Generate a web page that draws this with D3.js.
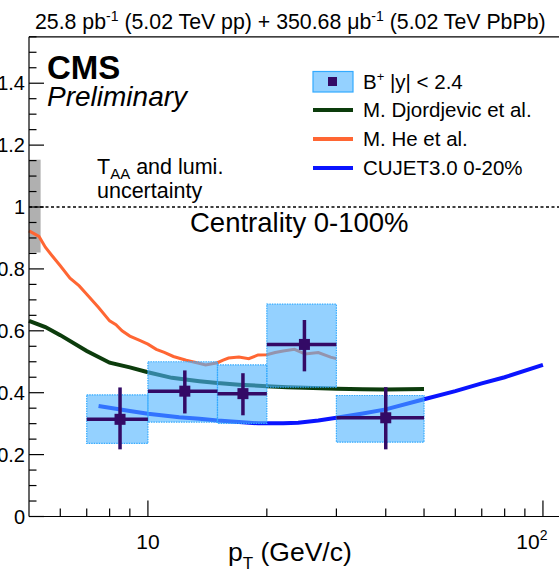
<!DOCTYPE html>
<html><head><meta charset="utf-8">
<script src="https://cdn.jsdelivr.net/npm/d3@7"></script>
<style>body{margin:0;background:#fff}svg{display:block;font-family:"Liberation Sans",Arial,sans-serif}</style>
</head><body><svg id="c" width="559" height="580"></svg>
<script>
// B+ RAA data
const binLo = [7, 10, 15, 20, 30];
const binHi = [10, 15, 20, 30, 50];
const bX = [8.5, 12.4, 17.4, 24.9, 40];
const bY = [0.314, 0.405, 0.397, 0.556, 0.319];
const statUp = [0.103, 0.067, 0.066, 0.079, 0.099];
const statDn = [0.097, 0.072, 0.070, 0.087, 0.102];
const systTop = [0.393, 0.500, 0.490, 0.686, 0.391];
const systBot = [0.236, 0.305, 0.301, 0.418, 0.240];
// Models
const djX = [5, 5.5, 6, 7, 8, 9, 10, 11.5, 13.5, 15, 17, 20, 22.5, 25, 30, 35, 40, 50];
const djY = [0.632, 0.612, 0.586, 0.535, 0.497, 0.482, 0.466, 0.448, 0.437, 0.431, 0.426, 0.421, 0.418, 0.416, 0.413, 0.411, 0.410, 0.412];
const heX = [5, 5.3, 5.5, 5.7, 6.0, 6.35, 6.7, 7.0, 7.5, 8.0, 8.3, 8.6, 9.0, 9.5, 10, 10.5, 11, 11.6, 12.5, 13.3, 14, 15, 15.5, 16, 17, 18, 19, 20, 21, 22, 23.5, 25, 27, 29, 30];
const heY = [0.923, 0.905, 0.87, 0.845, 0.81, 0.77, 0.745, 0.718, 0.675, 0.632, 0.62, 0.60, 0.583, 0.57, 0.557, 0.54, 0.53, 0.517, 0.505, 0.497, 0.49, 0.497, 0.505, 0.512, 0.515, 0.51, 0.522, 0.523, 0.53, 0.535, 0.54, 0.525, 0.53, 0.515, 0.51];
const cuX = [7.5, 9, 10, 12, 13.5, 15, 17, 19, 22, 24, 27, 30, 35, 40, 50, 60, 70, 80, 100];
const cuY = [0.357, 0.341, 0.332, 0.321, 0.316, 0.31, 0.305, 0.301, 0.301, 0.303, 0.31, 0.319, 0.333, 0.346, 0.379, 0.405, 0.43, 0.45, 0.49];
// Global uncertainty box
const taaLo = 0.853, taaHi = 1.153, taaX = [5, 5.35];
// Axis ticks
const yMajor = [0, 0.2, 0.4, 0.6, 0.8, 1, 1.2, 1.4];
const yLabels = ["0", "0.2", "0.4", "0.6", "0.8", "1", "1.2", "1.4"];
const xMajor = [10, 100];

const svg = d3.select("#c");
const x = d3.scaleLog().domain([5, 110]).range([29, 559.3]);
const y = d3.scaleLinear().domain([0, 1.55]).range([516.5, 36.8]);

// TAA box
svg.append("rect").attr("x", x(taaX[0])).attr("width", x(taaX[1]) - x(taaX[0]))
  .attr("y", y(taaHi)).attr("height", y(taaLo) - y(taaHi)).attr("fill", "#b0b0b0");
// dotted line at 1
svg.append("line").attr("x1", x(5)).attr("x2", 559).attr("y1", y(1)).attr("y2", y(1))
  .attr("stroke", "#000").attr("stroke-width", 1.5).attr("stroke-dasharray", "3,2.5");

const line = (xs, ys) => d3.line().x((d, i) => x(xs[i])).y((d, i) => y(ys[i]))(xs);
svg.append("path").attr("d", line(heX, heY)).attr("fill", "none").attr("stroke", "#ff6633").attr("stroke-width", 3);
svg.append("path").attr("d", line(djX, djY)).attr("fill", "none").attr("stroke", "#0c3c0c").attr("stroke-width", 4);
svg.append("path").attr("d", line(cuX, cuY)).attr("fill", "none").attr("stroke", "#0a14ff").attr("stroke-width", 4);

// syst boxes
const idx = d3.range(bX.length);
svg.selectAll(".sb").data(idx).join("rect")
  .attr("x", i => x(binLo[i])).attr("width", i => x(binHi[i]) - x(binLo[i]))
  .attr("y", i => y(systTop[i])).attr("height", i => y(systBot[i]) - y(systTop[i]))
  .attr("fill", "#4db3ff").attr("fill-opacity", 0.6)
  .attr("stroke", "#33aaff").attr("stroke-width", 1.2).attr("stroke-dasharray", "1.5,1");
const pc = "#330a66";
svg.selectAll(".xe").data(idx).join("line")
  .attr("x1", i => x(binLo[i])).attr("x2", i => x(binHi[i]))
  .attr("y1", i => y(bY[i])).attr("y2", i => y(bY[i])).attr("stroke", pc).attr("stroke-width", 3.5);
svg.selectAll(".ye").data(idx).join("line")
  .attr("x1", i => x(bX[i])).attr("x2", i => x(bX[i]))
  .attr("y1", i => y(bY[i] + statUp[i])).attr("y2", i => y(bY[i] - statDn[i])).attr("stroke", pc).attr("stroke-width", 3.5);
svg.selectAll(".mk").data(idx).join("rect")
  .attr("x", i => x(bX[i]) - 5.5).attr("y", i => y(bY[i]) - 5.5).attr("width", 11).attr("height", 11).attr("fill", pc);

// Axes frame
const ax = svg.append("g").attr("stroke", "#000").attr("stroke-width", 1.2);
ax.append("line").attr("x1", 29).attr("x2", 29).attr("y1", y(1.55)).attr("y2", y(0));
ax.append("line").attr("x1", 29).attr("x2", 559).attr("y1", y(0)).attr("y2", y(0));
ax.append("line").attr("x1", 29).attr("x2", 559).attr("y1", y(1.55)).attr("y2", y(1.55));
// y ticks
const yMinor = d3.range(0, 1.551, 0.05);
ax.selectAll(".ymi").data(yMinor).join("line").attr("x1", 29).attr("x2", d => 29 + (Math.abs(d / 0.2 - Math.round(d / 0.2)) < 1e-6 ? 15 : 7.5))
  .attr("y1", d => y(d)).attr("y2", d => y(d));
// x ticks
const xMinor = [6, 7, 8, 9, 20, 30, 40, 50, 60, 70, 80, 90];
ax.selectAll(".xmi").data(xMinor).join("line").attr("x1", d => x(d)).attr("x2", d => x(d)).attr("y1", y(0)).attr("y2", y(0) - 8);
ax.selectAll(".xma").data(xMajor).join("line").attr("x1", d => x(d)).attr("x2", d => x(d)).attr("y1", y(0)).attr("y2", y(0) - 16);

const T = svg.append("g").attr("fill", "#000");
T.selectAll(".yl").data(yMajor).join("text").attr("x", 25).attr("y", d => y(d) + 7).attr("text-anchor", "end")
  .attr("font-size", 20).text((d, i) => yLabels[i]);
T.append("text").attr("x", x(10)).attr("y", 549).attr("text-anchor", "middle").attr("font-size", 21).text("10");
const t100 = T.append("text").attr("x", x(100) - 11).attr("y", 549).attr("text-anchor", "middle").attr("font-size", 21);
t100.append("tspan").text("10");
t100.append("tspan").attr("font-size", 14).attr("dy", -9).text("2");
const xt = T.append("text").attr("x", 228).attr("y", 561).attr("font-size", 26.5);
xt.append("tspan").text("p");
xt.append("tspan").attr("font-size", 17).attr("dy", 8).text("T");
xt.append("tspan").attr("dy", -8).text(" (GeV/c)");

// title
const tt = T.append("text").attr("x", 35).attr("y", 29).attr("font-size", 21.3);
tt.append("tspan").text("25.8 pb");
tt.append("tspan").attr("font-size", 14).attr("dy", -8).text("-1");
tt.append("tspan").attr("dy", 8).text(" (5.02 TeV pp) + 350.68 μb");
tt.append("tspan").attr("font-size", 14).attr("dy", -8).text("-1");
tt.append("tspan").attr("dy", 8).text(" (5.02 TeV PbPb)");

T.append("text").attr("x", 47).attr("y", 79).attr("font-size", 33).attr("font-weight", "bold").text("CMS");
T.append("text").attr("x", 47).attr("y", 106).attr("font-size", 28).attr("font-style", "italic").text("Preliminary");

const ta = T.append("text").attr("x", 97).attr("y", 174).attr("font-size", 21.5);
ta.append("tspan").text("T");
ta.append("tspan").attr("font-size", 15).attr("dy", 5).text("AA");
ta.append("tspan").attr("dy", -5).text(" and lumi.");
T.append("text").attr("x", 97).attr("y", 198).attr("font-size", 21.5).text("uncertainty");
T.append("text").attr("x", 190).attr("y", 232).attr("font-size", 27.5).text("Centrality 0-100%");

// legend
const lg = svg.append("g");
lg.append("rect").attr("x", 313).attr("y", 71.5).attr("width", 40).attr("height", 20.5)
  .attr("fill", "#4db3ff").attr("fill-opacity", 0.6).attr("stroke", "#33aaff").attr("stroke-width", 1.2);
lg.append("rect").attr("x", 328).attr("y", 77).attr("width", 9).attr("height", 9).attr("fill", pc);
const lt = lg.append("text").attr("x", 363).attr("y", 89).attr("font-size", 20.5);
lt.append("tspan").text("B");
lt.append("tspan").attr("font-size", 13).attr("dy", -8).text("+");
lt.append("tspan").attr("dy", 8).text(" |y| < 2.4");
const legItems = [["M. Djordjevic et al.", "#0c3c0c", 110], ["M. He et al.", "#ff6633", 139], ["CUJET3.0 0-20%", "#0a14ff", 168]];
legItems.forEach(([t, c, yy]) => {
  lg.append("line").attr("x1", 313).attr("x2", 353).attr("y1", yy).attr("y2", yy).attr("stroke", c).attr("stroke-width", 4);
  lg.append("text").attr("x", 363).attr("y", yy + 7).attr("font-size", 20.5).text(t);
});
</script></body></html>
